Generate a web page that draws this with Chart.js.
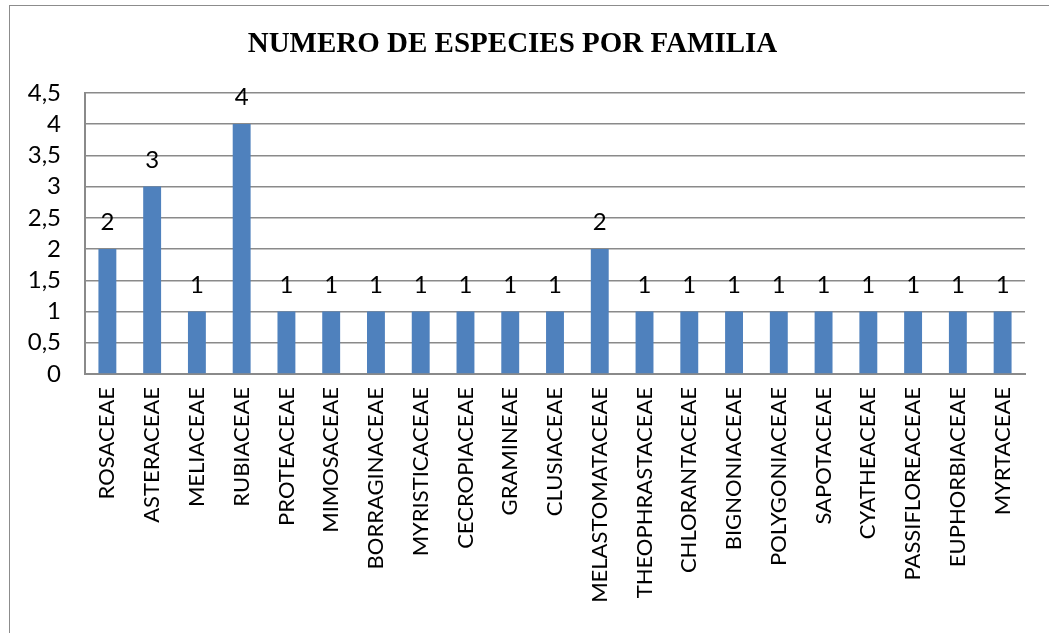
<!DOCTYPE html>
<html>
<head>
<meta charset="utf-8">
<script src="https://cdn.jsdelivr.net/npm/chart.js@4.4.0/dist/chart.umd.min.js"></script>
<style>
  html, body { margin: 0; padding: 0; background: #fff; }
  #wrap { position: relative; width: 1049px; height: 633px; }
  #frame { position: absolute; left: 9px; top: 5px; width: 1100px; height: 700px; border: 1px solid #8c8c8c; }
  canvas { position: absolute; left: 0; top: 0; }
</style>
</head>
<body>
<div id="wrap">
  <div id="frame"></div>
  <canvas id="chart" width="1049" height="633"></canvas>
</div>
<script>
// ----- datos -----
const familias = ['ROSACEAE', 'ASTERACEAE', 'MELIACEAE', 'RUBIACEAE', 'PROTEACEAE', 'MIMOSACEAE',
  'BORRAGINACEAE', 'MYRISTICACEAE', 'CECROPIACEAE', 'GRAMINEAE', 'CLUSIACEAE', 'MELASTOMATACEAE',
  'THEOPHRASTACEAE', 'CHLORANTACEAE', 'BIGNONIACEAE', 'POLYGONIACEAE', 'SAPOTACEAE', 'CYATHEACEAE',
  'PASSIFLOREACEAE', 'EUPHORBIACEAE', 'MYRTACEAE'];
const especies = [2, 3, 1, 4, 1, 1, 1, 1, 1, 1, 1, 2, 1, 1, 1, 1, 1, 1, 1, 1, 1];
const titulo = 'NUMERO DE ESPECIES POR FAMILIA';

const LABEL_FONT = 'Lato, "Open Sans", sans-serif';
const GRID = '#8a8a8a';

// etiquetas de valor encima de cada barra
const valueLabels = {
  id: 'valueLabels',
  afterDatasetsDraw(chart) {
    const ctx = chart.ctx;
    const meta = chart.getDatasetMeta(0);
    ctx.save();
    ctx.font = '24px ' + LABEL_FONT;
    ctx.fillStyle = '#000';
    ctx.textAlign = 'center';
    ctx.textBaseline = 'alphabetic';
    meta.data.forEach((bar, i) => {
      ctx.fillText(String(especies[i]), bar.x, bar.y - 19);
    });
    ctx.restore();
  }
};

new Chart(document.getElementById('chart'), {
  type: 'bar',
  data: {
    labels: familias,
    datasets: [{
      data: especies,
      backgroundColor: '#4F81BD',
      barPercentage: 0.4,
      categoryPercentage: 1
    }]
  },
  options: {
    responsive: false,
    animation: false,
    layout: { padding: { left: 0, right: 24, top: 0, bottom: 0 } },
    plugins: {
      legend: { display: false },
      tooltip: { enabled: false },
      title: {
        display: true,
        text: titulo,
        color: '#000',
        font: { family: '"Liberation Serif", "Times New Roman", serif', size: 29, weight: 'bold' },
        padding: { top: 27, bottom: 31 }
      }
    },
    scales: {
      x: {
        grid: { display: false, drawTicks: false },
        border: { color: GRID, width: 2 },
        ticks: {
          color: '#000',
          font: { family: LABEL_FONT, size: 22 },
          minRotation: 90,
          maxRotation: 90,
          autoSkip: false,
          padding: 13
        },
        afterFit(scale) { scale.height = 259; }
      },
      y: {
        min: 0,
        max: 4.5,
        grid: { color: GRID, lineWidth: 1.5, drawTicks: false },
        border: { color: GRID, width: 2 },
        ticks: {
          stepSize: 0.5,
          autoSkip: false,
          color: '#000',
          font: { family: LABEL_FONT, size: 24 },
          padding: 24,
          callback: v => String(v).replace('.', ',')
        },
        afterFit(scale) { scale.width = 85; }
      }
    }
  },
  plugins: [valueLabels]
});
</script>
</body>
</html>
